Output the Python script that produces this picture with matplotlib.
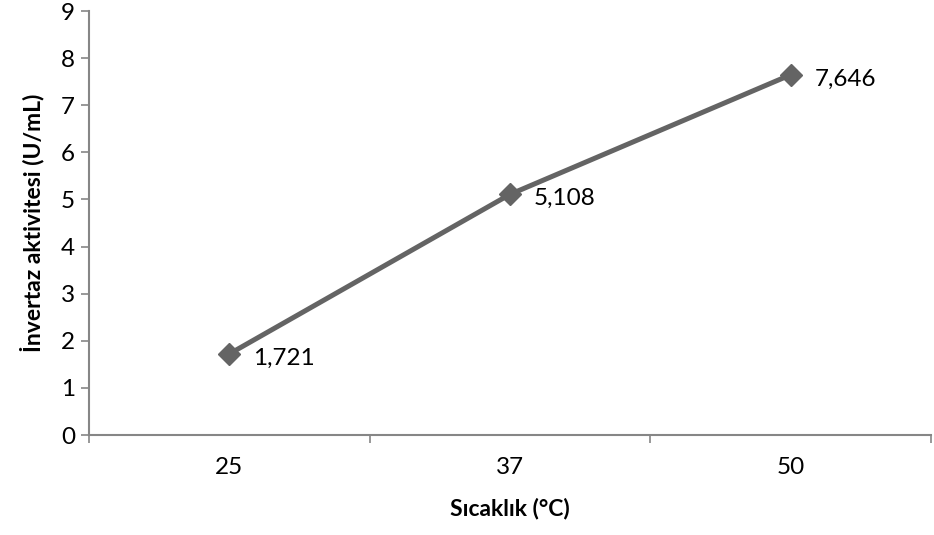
import matplotlib.pyplot as plt

# veri
sicaklik = ['25', '37', '50']
aktivite = [1.721, 5.108, 7.646]
etiketler = ['1,721', '5,108', '7,646']

plt.rcParams['font.family'] = ['Lato', 'DejaVu Sans']

fig = plt.figure(figsize=(9.34, 5.35), dpi=100)
ax = fig.add_axes([89/934, 1 - 435/535, (931 - 89)/934, (435 - 11)/535])

x = list(range(len(sicaklik)))
ax.plot(x, aktivite, color='#646464', lw=3.6, marker='D', markersize=11,
        solid_capstyle='butt', zorder=3)

for xi, yi, t in zip(x, aktivite, etiketler):
    ax.annotate(t, (xi, yi), xytext=(17, -3), textcoords='offset points',
                ha='left', va='center', fontsize=17.5)

ax.set_xlim(-0.5, 2.5)
ax.set_ylim(0, 9)
ax.set_yticks(range(0, 10))
ax.set_xticks([-0.5, 0.5, 1.5, 2.5])
ax.set_xticklabels([])
ax.set_xticks(x, minor=True)
ax.set_xticklabels(sicaklik, minor=True)
ax.tick_params(axis='x', which='minor', length=0, labelsize=17.5, pad=16)
ax.tick_params(axis='x', which='major', length=6, color='#868686', width=1.2)
ax.tick_params(axis='y', length=6, color='#868686', width=1.2, labelsize=17.5, pad=4)

for s in ['top', 'right']:
    ax.spines[s].set_visible(False)
for s in ['left', 'bottom']:
    ax.spines[s].set_color('#868686')
    ax.spines[s].set_linewidth(1.5)

ax.set_xlabel('Sıcaklık (°C)', fontsize=16.5, fontweight='bold', labelpad=14)
ax.set_ylabel('İnvertaz aktivitesi (U/mL)', fontsize=16.5, fontweight='bold', labelpad=12)

fig.savefig('out.png', dpi=100)
